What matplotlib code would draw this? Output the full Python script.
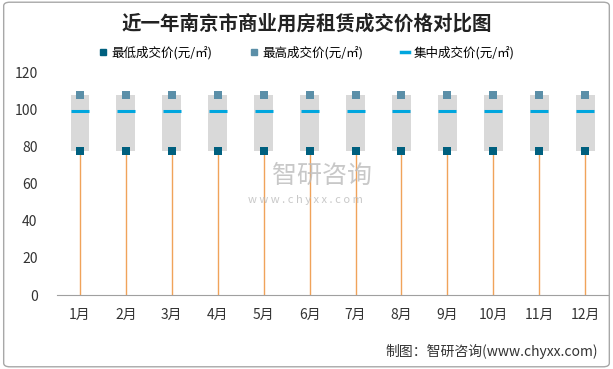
import matplotlib
matplotlib.use("Agg")
import matplotlib.pyplot as plt
from matplotlib.patches import FancyBboxPatch
from matplotlib.lines import Line2D

plt.rcParams['font.family'] = ['Noto Sans CJK SC', 'DejaVu Sans']

months = ['1月', '2月', '3月', '4月', '5月', '6月', '7月', '8月', '9月', '10月', '11月', '12月']
low = [78, 78, 78, 78, 78, 78, 78, 78, 78, 78, 78, 78]
high = [108, 108, 108, 108, 108, 108, 108, 108, 108, 108, 108, 108]
median = [99.5, 99.5, 99.5, 99.5, 99.5, 99.5, 99.5, 99.5, 99.5, 99.5, 99.5, 99.5]
yticks = [0, 20, 40, 60, 80, 100, 120]

fig = plt.figure(figsize=(6.13, 3.69), dpi=100)
ax = fig.add_axes([0.093, 0.2005, 0.899, 0.6025])

x = list(range(len(months)))
# orange lines from 0 to low
ax.vlines(x, 0, low, color='#F0A35A', lw=1.0, zorder=1)
# gray boxes from low to high
ax.bar(x, [h - l for h, l in zip(high, low)], bottom=low, width=0.41,
       color='#D9D9D9', zorder=2)
# markers
ax.scatter(x, low, marker='s', s=34, color='#00607F', linewidths=0, zorder=4)
ax.scatter(x, high, marker='s', s=34, color='#5B8FA8', linewidths=0, zorder=4)
ax.scatter(x, median, marker='_', s=150, linewidths=2.2, color='#00A6DE', zorder=5)

ax.set_xlim(-0.5, len(months) - 0.5)
ax.set_ylim(0, 120)
ax.set_yticks(yticks)
ax.set_xticks(x)
ax.set_xticklabels(months)
for s in ['top', 'right', 'left']:
    ax.spines[s].set_visible(False)
ax.spines['bottom'].set_color('#A0A0A0')
ax.tick_params(axis='both', length=0, labelsize=10, colors='#333333')
ax.tick_params(axis='x', pad=9)
ax.tick_params(axis='y', pad=14)

# title
fig.text(0.5, 0.935, '近一年南京市商业用房租赁成交价格对比图', ha='center', va='center',
         fontsize=14, fontweight='bold', color='#222222')

# legend
handles = [
    Line2D([], [], marker='s', color='none', markerfacecolor='#00607F', markeredgecolor='#00607F', markersize=5),
    Line2D([], [], marker='s', color='none', markerfacecolor='#5B8FA8', markeredgecolor='#5B8FA8', markersize=5),
    Line2D([], [], color='#00A6DE', lw=2.5),
]
labels = ['最低成交价(元/㎡)', '最高成交价(元/㎡)', '集中成交价(元/㎡)']
fig.legend(handles, labels, loc='center', bbox_to_anchor=(0.5, 0.858), ncol=3,
           frameon=False, fontsize=9, handlelength=0.7, handletextpad=0.3,
           columnspacing=3.0)

# watermark
fig.text(0.525, 0.522, '智研咨询', ha='center', va='center', fontsize=18, color='#BBBBBB', alpha=0.8, zorder=0)
fig.text(0.498, 0.458, 'w w w . c h y x x . c o m', ha='center', va='center', fontsize=8, color='#BBBBBB', alpha=0.8)

# source
fig.text(0.975, 0.048, '制图：智研咨询(www.chyxx.com)', ha='right', va='center', fontsize=10, color='#333333')

# border
fig.patches.append(FancyBboxPatch((0.006, 0.006), 0.988, 0.988, boxstyle='round,pad=0,rounding_size=0.01',
                                  transform=fig.transFigure, fill=False, ec='#A8A8A8', lw=1.0))

fig.savefig('out.png', dpi=100)
